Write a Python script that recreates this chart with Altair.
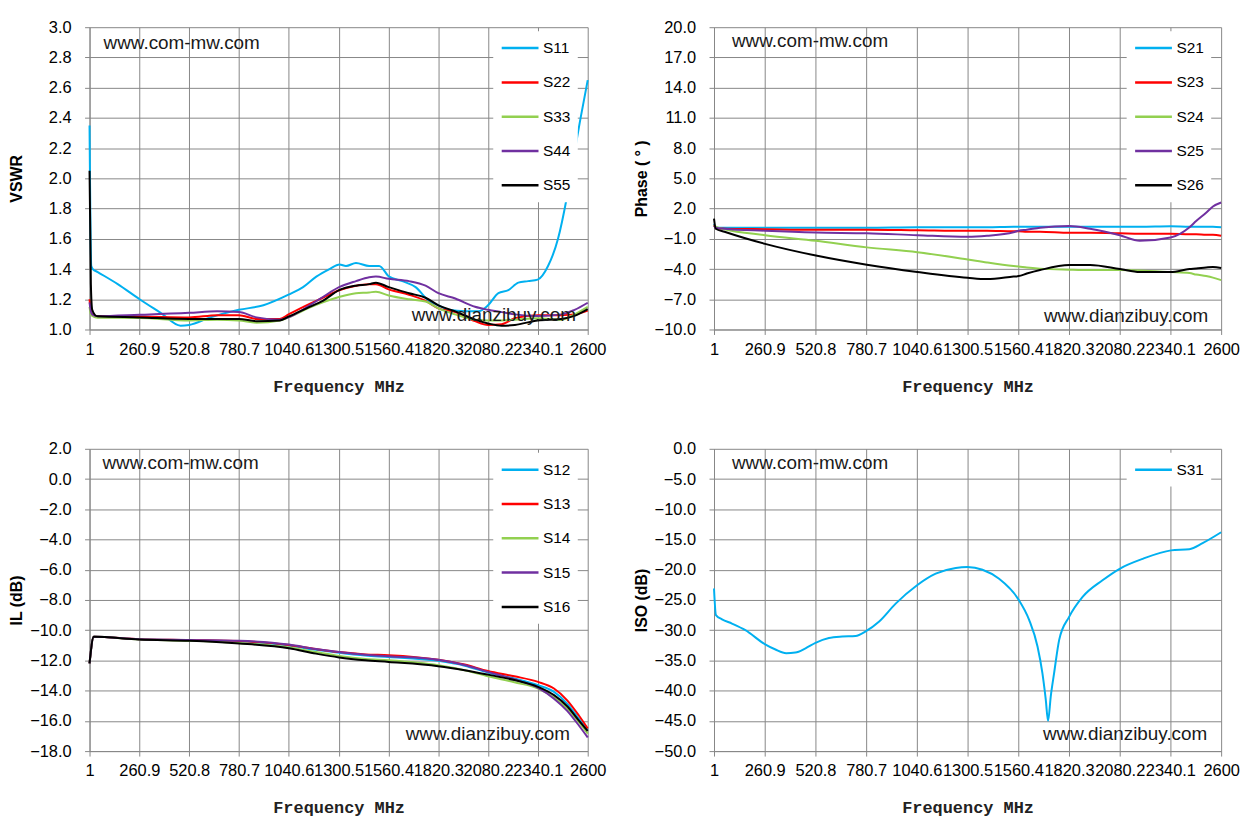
import altair as alt
import pandas as pd

FONT = "Liberation Sans"
TITLE_X_FONT = "Liberation Mono"
GRID_GREY = "#878787"
TEXT_DARK = "#1a1a1a"

CYAN = "#00B0F0"
RED = "#FF0000"
GREEN = "#92D050"
PURPLE = "#7030A0"
BLACK = "#000000"

FREQ_TICKS = [1, 260.9, 520.8, 780.7, 1040.6, 1300.5, 1560.4, 1820.3, 2080.2, 2340.1, 2600]

# --- VSWR panel -------------------------------------------------------------
VSWR_TICKS = [1.0, 1.2, 1.4, 1.6, 1.8, 2.0, 2.2, 2.4, 2.6, 2.8, 3.0]
S11_F = [1, 10, 18, 44, 148, 262, 372, 476, 521, 631, 780, 908, 1039, 1115, 1184, 1253,
         1305, 1339, 1391, 1460, 1512, 1564, 1633, 1702, 1771, 1821, 1875, 1961, 2030,
         2080, 2134, 2186, 2238, 2289, 2339, 2393, 2445, 2489, 2524, 2560, 2600]
S11_V = [2.35, 1.42, 1.40, 1.38, 1.30, 1.20, 1.11, 1.025, 1.03, 1.08, 1.13, 1.16, 1.23, 1.28,
         1.35, 1.40, 1.43, 1.42, 1.44, 1.42, 1.42, 1.35, 1.32, 1.28, 1.19, 1.16, 1.13, 1.12,
         1.12, 1.16, 1.24, 1.26, 1.31, 1.32, 1.33, 1.42, 1.60, 1.86, 2.12, 2.38, 2.65]
VSWR_F = [1, 8, 15, 30, 44, 262, 521, 666, 780, 873, 994, 1039, 1149, 1218, 1303, 1391,
          1460, 1495, 1562, 1668, 1754, 1821, 1909, 2012, 2080, 2151, 2220, 2339, 2462,
          2531, 2600]
S22_V = [1.20, 1.12, 1.10, 1.09, 1.087, 1.086, 1.08, 1.095, 1.095, 1.07, 1.07, 1.10, 1.17,
         1.21, 1.26, 1.29, 1.30, 1.30, 1.265, 1.23, 1.19, 1.14, 1.115, 1.055, 1.03, 1.035,
         1.075, 1.095, 1.095, 1.10, 1.125]
S33_V = [1.15, 1.10, 1.09, 1.08, 1.078, 1.076, 1.06, 1.065, 1.06, 1.045, 1.06, 1.08, 1.145,
         1.18, 1.215, 1.24, 1.245, 1.25, 1.225, 1.20, 1.185, 1.14, 1.10, 1.065, 1.06, 1.06,
         1.065, 1.075, 1.065, 1.10, 1.15]
S44_V = [1.18, 1.12, 1.10, 1.09, 1.088, 1.097, 1.11, 1.12, 1.115, 1.08, 1.065, 1.08, 1.16,
         1.215, 1.28, 1.32, 1.345, 1.35, 1.335, 1.32, 1.29, 1.24, 1.205, 1.15, 1.13, 1.115,
         1.10, 1.09, 1.10, 1.13, 1.177]
S55_V = [2.05, 1.30, 1.13, 1.095, 1.087, 1.08, 1.07, 1.07, 1.07, 1.055, 1.06, 1.085, 1.15,
         1.19, 1.26, 1.29, 1.30, 1.31, 1.28, 1.24, 1.21, 1.16, 1.12, 1.065, 1.04, 1.025,
         1.03, 1.06, 1.07, 1.09, 1.135]

# --- Phase panel ------------------------------------------------------------
PHASE_TICKS = [-10.0, -7.0, -4.0, -1.0, 2.0, 5.0, 8.0, 11.0, 14.0, 17.0, 20.0]
PHASE_F = [1, 10, 55, 263, 523, 784, 1043, 1301, 1400, 1536, 1562, 1604, 1672, 1822, 1928,
           2081, 2183, 2341, 2438, 2472, 2523, 2558, 2600]
S21_V = [0.5, 0.1, 0.1, 0.1, 0.1, 0.1, 0.15, 0.15, 0.15, 0.2, 0.2, 0.2, 0.2, 0.2, 0.2, 0.2,
         0.2, 0.25, 0.2, 0.2, 0.2, 0.2, 0.15]
S23_V = [0.4, 0.05, 0.0, -0.05, -0.1, -0.1, -0.15, -0.2, -0.2, -0.25, -0.25, -0.3, -0.3,
         -0.4, -0.4, -0.45, -0.5, -0.5, -0.55, -0.55, -0.6, -0.6, -0.7]
S24_V = [0.4, 0.2, -0.05, -0.64, -1.2, -1.85, -2.33, -3.05, -3.35, -3.7, -3.75, -3.85,
         -3.96, -4.06, -4.1, -4.1, -4.15, -4.3, -4.4, -4.55, -4.7, -4.85, -5.1]
S25_V = [0.3, 0.1, 0.0, -0.2, -0.38, -0.45, -0.64, -0.8, -0.7, -0.35, -0.2, -0.1, 0.1,
         0.27, 0.0, -0.64, -1.2, -0.87, 0.15, 0.76, 1.58, 2.2, 2.6]
S26_V = [1.0, 0.0, -0.3, -1.5, -2.66, -3.57, -4.29, -4.87, -5.0, -4.75, -4.7, -4.45, -4.1,
         -3.6, -3.6, -4.0, -4.3, -4.3, -4.0, -3.95, -3.85, -3.8, -3.9]

# --- IL panel ---------------------------------------------------------------
IL_TICKS = [-18.0, -16.0, -14.0, -12.0, -10.0, -8.0, -6.0, -4.0, -2.0, 0.0, 2.0]
IL_F = [1, 23, 261, 524, 782, 1041, 1182, 1303, 1441, 1562, 1820, 1958, 2079, 2217, 2341,
        2424, 2493, 2553, 2600]
S12_V = [-12.2, -10.44, -10.6, -10.66, -10.74, -11.02, -11.3, -11.5, -11.68, -11.77, -12.03,
         -12.35, -12.8, -13.2, -13.64, -14.08, -14.86, -15.85, -16.6]
S13_V = [-12.2, -10.44, -10.6, -10.65, -10.72, -10.98, -11.25, -11.45, -11.6, -11.65, -11.95,
         -12.27, -12.7, -13.05, -13.42, -13.86, -14.64, -15.63, -16.5]
S14_V = [-12.2, -10.44, -10.62, -10.7, -10.85, -11.15, -11.45, -11.7, -11.9, -11.99, -12.32,
         -12.65, -13.05, -13.45, -13.86, -14.46, -15.19, -16.07, -16.84]
S15_V = [-12.2, -10.44, -10.6, -10.65, -10.7, -10.95, -11.25, -11.45, -11.62, -11.72, -11.95,
         -12.3, -12.76, -13.25, -13.82, -14.53, -15.34, -16.29, -17.1]
S16_V = [-12.2, -10.44, -10.62, -10.7, -10.88, -11.2, -11.55, -11.8, -11.99, -12.1, -12.38,
         -12.65, -12.94, -13.3, -13.75, -14.3, -15.03, -15.96, -16.67]

# --- ISO panel --------------------------------------------------------------
ISO_TICKS = [-50.0, -45.0, -40.0, -35.0, -30.0, -25.0, -20.0, -15.0, -10.0, -5.0, 0.0]
S31_F = [1, 11, 42, 93, 162, 261, 316, 371, 418, 470, 521, 590, 658, 726, 778, 846, 932,
         1040, 1137, 1240, 1300, 1377, 1462, 1561, 1616, 1659, 1684, 1701, 1713, 1727, 1744,
         1770, 1821, 1890, 1992, 2082, 2198, 2343, 2437, 2505, 2600]
S31_V = [-23.1, -27.5, -28.2, -28.9, -30.0, -32.3, -33.2, -33.8, -33.7, -33.0, -32.1, -31.3,
         -31.05, -30.95, -30.2, -28.6, -25.6, -22.6, -20.65, -19.7, -19.56, -20.0, -21.5,
         -24.9, -28.3, -32.7, -37.1, -41.4, -45.0, -40.9, -37.1, -31.6, -27.8, -24.5, -21.75,
         -19.8, -18.2, -16.8, -16.6, -15.6, -13.8]

# watermark anchors (frequency, value) per panel: top-left note, bottom-right note
NOTE_TOP = "www.com-mw.com"
NOTE_BOTTOM = "www.dianzibuy.com"
VSWR_NOTES = [(74, 2.895), (2539, 1.098)]
PHASE_NOTES = [(93, 18.6), (2534, -8.7)]
IL_NOTES = [(68, 1.08), (2508, -16.9)]
ISO_NOTES = [(93, -2.3), (2529, -47.2)]


def panel(series, y_title, y_ticks, notes, width, height=304):
    """One Excel-like chart: lines, inside legend and two watermark texts."""
    rows = []
    for name, freqs, values, _ in series:
        rows += [{"f": f, "v": v, "s": name} for f, v in zip(freqs, values)]
    data = pd.DataFrame(rows)

    x_enc = alt.X("f:Q",
                  scale=alt.Scale(domain=[1, 2600], nice=False, zero=False),
                  axis=alt.Axis(values=FREQ_TICKS, format=".1~f", labelOverlap=False,
                                labelFlush=False, title="Frequency MHz"))
    y_enc = alt.Y("v:Q",
                  scale=alt.Scale(domain=[y_ticks[0], y_ticks[-1]], nice=False, zero=False),
                  axis=alt.Axis(values=y_ticks, format=".1f", title=y_title))

    lines = alt.Chart(data).mark_line(strokeWidth=2, interpolate="monotone").encode(
        x=x_enc,
        y=y_enc,
        color=alt.Color("s:N",
                        scale=alt.Scale(domain=[s[0] for s in series],
                                        range=[s[3] for s in series]),
                        legend=alt.Legend(title=None, orient="none",
                                          legendX=width - 95, legendY=4,
                                          padding=7, fillColor="white",
                                          symbolType="stroke", symbolSize=1369,
                                          symbolStrokeWidth=2.5, clipHeight=20,
                                          rowPadding=14.5, labelOffset=3,
                                          labelFont=FONT, labelFontSize=15.5,
                                          labelColor="black")),
    )

    top_df = pd.DataFrame({"f": [notes[0][0]], "v": [notes[0][1]], "t": [NOTE_TOP]})
    bottom_df = pd.DataFrame({"f": [notes[1][0]], "v": [notes[1][1]], "t": [NOTE_BOTTOM]})
    top_note = alt.Chart(top_df).mark_text(
        align="left", baseline="middle", font=FONT, fontSize=19, color=TEXT_DARK
    ).encode(x=x_enc, y=y_enc, text="t:N")
    bottom_note = alt.Chart(bottom_df).mark_text(
        align="right", baseline="middle", font=FONT, fontSize=19, color=TEXT_DARK
    ).encode(x=x_enc, y=y_enc, text="t:N")

    return alt.layer(lines, top_note, bottom_note).properties(width=width, height=height)


vswr = panel([("S11", S11_F, S11_V, CYAN), ("S22", VSWR_F, S22_V, RED),
              ("S33", VSWR_F, S33_V, GREEN), ("S44", VSWR_F, S44_V, PURPLE),
              ("S55", VSWR_F, S55_V, BLACK)],
             "VSWR", VSWR_TICKS, VSWR_NOTES, 501)
phase = panel([("S21", PHASE_F, S21_V, CYAN), ("S23", PHASE_F, S23_V, RED),
               ("S24", PHASE_F, S24_V, GREEN), ("S25", PHASE_F, S25_V, PURPLE),
               ("S26", PHASE_F, S26_V, BLACK)],
              "Phase ( ° )", PHASE_TICKS, PHASE_NOTES, 510)
il = panel([("S12", IL_F, S12_V, CYAN), ("S13", IL_F, S13_V, RED),
            ("S14", IL_F, S14_V, GREEN), ("S15", IL_F, S15_V, PURPLE),
            ("S16", IL_F, S16_V, BLACK)],
           "IL (dB)", IL_TICKS, IL_NOTES, 501)
iso = panel([("S31", S31_F, S31_V, CYAN)], "ISO (dB)", ISO_TICKS, ISO_NOTES, 510)

chart = alt.concat(
    vswr, phase, il, iso, columns=2, spacing={"row": 45, "column": 26}
).resolve_scale(
    x="independent", y="independent", color="independent"
).properties(
    padding={"left": 0, "top": 8, "right": 5, "bottom": 5}
).configure_view(
    stroke="transparent"
).configure_axis(
    gridColor=GRID_GREY, gridWidth=1, domainColor=GRID_GREY, domainWidth=1,
    tickColor=GRID_GREY, tickSize=5, labelFont=FONT, labelFontSize=16.5,
    labelColor="black"
).configure_axisX(
    labelPadding=7, titleFont=TITLE_X_FONT, titleFontSize=17, titleFontWeight="bold",
    titleColor="#222222", titleY=49
).configure_axisY(
    labelPadding=13.5, titleFont=FONT, titleFontSize=16, titleFontWeight="bold",
    titleColor="black", titleX=-65
)

chart.save("out.html", embed_options={"renderer": "svg", "actions": False})
